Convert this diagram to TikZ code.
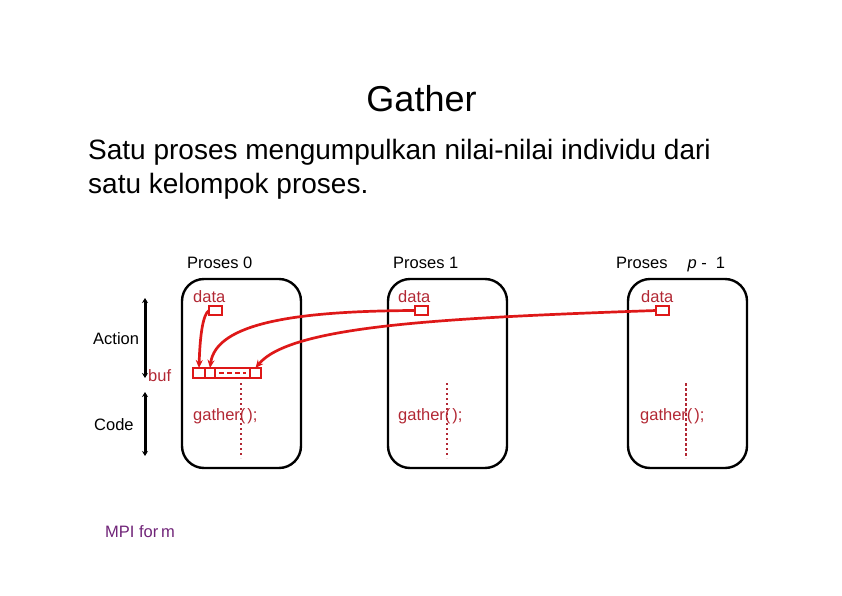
\documentclass[tikz,border=0pt]{standalone}
\usepackage{fontspec}
\setmainfont{Liberation Sans}
\usetikzlibrary{arrows.meta,positioning,calc}
\definecolor{arrred}{RGB}{222,24,24}
\definecolor{txtred}{RGB}{178,40,52}
\definecolor{mpipurple}{RGB}{112,36,120}
\tikzset{
  procbox/.style = {rectangle, rounded corners=22pt, draw=black, line width=2.4pt,
                    minimum width=119pt, minimum height=189pt, inner sep=0pt},
  databox/.style = {rectangle, draw=arrred, line width=2.2pt, fill=white,
                    minimum width=13pt, minimum height=9pt, inner sep=0pt, outer sep=0pt},
  cellbox/.style = {databox, minimum height=10pt},
  flow/.style    = {-{Stealth[length=8pt,width=7pt]}, draw=arrred, line width=2.7pt},
  span/.style    = {{Stealth[length=5pt,width=6pt]}-{Stealth[length=5pt,width=6pt]},
                    draw=black, line width=3pt},
  dotline/.style = {draw=txtred, line width=2pt, dash pattern=on 2pt off 3pt}
}
\begin{document}
\begin{tikzpicture}[
    x=1pt, y=-1pt,
    lab/.style={font=\fontsize{16.5}{19}\selectfont, inner sep=0pt},
    redlab/.style={lab, text=txtred}
  ]
  \useasboundingbox (0,0) rectangle (842,596);
  % ===================== judul =====================
  \node[font=\fontsize{36}{40}\selectfont, anchor=base, inner sep=0pt] (title) at (421.5,112) {Gather};
  \node[font=\fontsize{28}{33}\selectfont, anchor=base west, inner sep=0pt, align=left] (sub) at (88,193)
    {Satu proses mengumpulkan nilai-nilai individu dari\\satu kelompok proses.};

  % ===================== proses =====================
  \node[procbox] (p0) at (241.5,373.5) {};
  \node[procbox] (p1) at (447.5,373.5) {};
  \node[procbox] (pp) at (687.5,373.5) {};
  \node[lab, anchor=base west] (n0) at (187,268) {Proses 0};
  \node[lab, anchor=base west] (n1) at (393,268) {Proses 1};
  \node[lab, anchor=base west] (np) at (616,268) {Proses\hspace{20pt}\textit{p} -\ \ 1};

  % data
  \node[redlab, anchor=base west] (t0) at (193,302) {data};
  \node[redlab, anchor=base west] (t1) at (398,302) {data};
  \node[redlab, anchor=base west] (tp) at (641,302) {data};
  \node[databox] (d0) at (215.5,310.5) {};
  \node[databox] (d1) at (421.5,310.5) {};
  \node[databox] (dp) at (662.5,310.5) {};

  % buf
  \node[cellbox, minimum width=12pt, anchor=west] (c1) at (193,373) {};
  \node[cellbox, minimum width=10pt, right=0pt of c1] (c2) {};
  \node[cellbox, minimum width=35pt, right=0pt of c2] (c3) {};
  \node[cellbox, minimum width=11pt, right=0pt of c3] (c4) {};
  \draw[arrred, line width=1.6pt, dash pattern=on 5pt off 3pt]
    ($(c3.west)+(4,0)$) -- ($(c3.east)+(-4,0)$);

  % gather
  \draw[dotline] (241,383) -- (241,458);
  \draw[dotline] (447,383) -- (447,458);
  \draw[dotline, line width=2.6pt, dash pattern=on 3pt off 2pt] (686,383) -- (686,458);
  \node[redlab, anchor=base west] (g0) at (193,420) {gather(\kern2pt);};
  \node[redlab, anchor=base west] (g1) at (398,420) {gather(\kern2pt);};
  \node[redlab, anchor=base west] (gp) at (640,420) {gather(\kern2pt);};

  % ===================== panah =====================
  \draw[flow] (d0.west) .. controls (203,314) and (200,335) .. (c1.north);
  \draw[flow] (d1.west) .. controls (300,311) and (216,322) .. (c2.north);
  \draw[flow] (dp.west) .. controls (440,318) and (290,326) .. (c4.north);

  % ===================== kiri =====================
  \coordinate (a1) at (145,298);
  \coordinate (a2) at (145,378);
  \coordinate (k1) at (145,392);
  \coordinate (k2) at (145,456);
  \draw[span] (a1) -- (a2);
  \draw[span] (k1) -- (k2);
  \node[lab, anchor=base west] (act) at (93,344) {Action};
  \node[redlab, anchor=base west] (buf) at (148,381) {buf};
  \node[lab, anchor=base west] (code) at (94,430) {Code};
  \node[lab, anchor=base west, text=mpipurple] (mpi) at (105,537) {MPI for\,m};
\end{tikzpicture}
\end{document}
